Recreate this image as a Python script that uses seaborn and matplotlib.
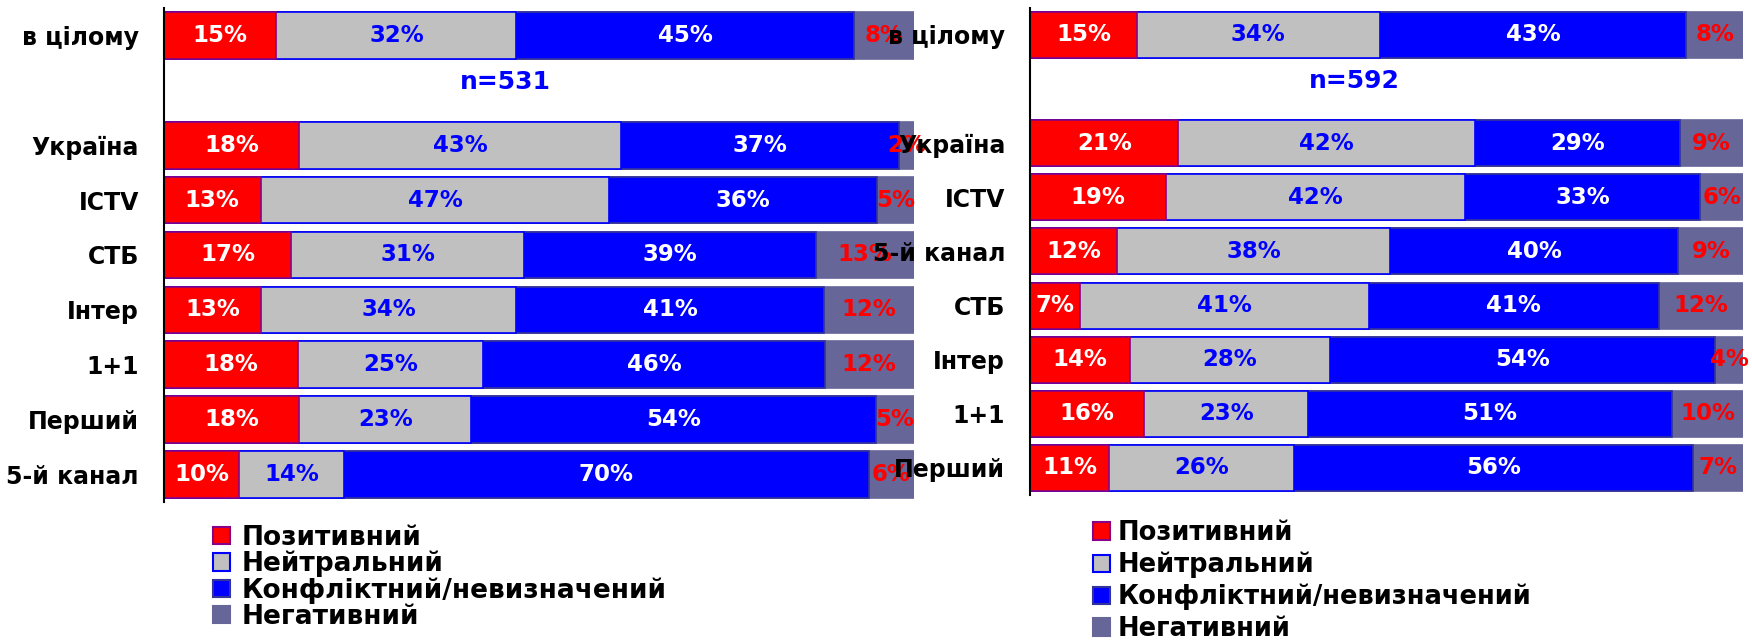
import numpy as np
import pandas as pd
import matplotlib
matplotlib.use("Agg")
import matplotlib.pyplot as plt
from matplotlib.patches import Patch
from matplotlib.ticker import FixedLocator
import seaborn as sns

sns.set_style("white")
plt.rcParams["font.family"] = ["DejaVu Sans"]
plt.rcParams["font.weight"] = "bold"
plt.rcParams["text.color"] = "black"
plt.rcParams["ytick.labelcolor"] = "black"

# --- data
series_names = ["Позитивний", "Нейтральний", "Конфліктний/невизначений", "Негативний"]
fill_colors = ["#FF0000", "#C0C0C0", "#0000FF", "#666699"]
edge_colors = ["#880088", "#0000FF", "#333399", "#666699"]
text_colors = ["white", "#0000FF", "white", "#FF0000"]

left_channels = ["в цілому", "Україна", "ICTV", "СТБ", "Інтер", "1+1", "Перший", "5-й канал"]
left_pos  = [15, 18, 13, 17, 13, 18, 18, 10]
left_neu  = [32, 43, 47, 31, 34, 25, 23, 14]
left_conf = [45, 37, 36, 39, 41, 46, 54, 70]
left_neg  = [8, 2, 5, 13, 12, 12, 5, 6]
left_n = "n=531"

right_channels = ["в цілому", "Україна", "ICTV", "5-й канал", "СТБ", "Інтер", "1+1", "Перший"]
right_pos  = [15, 21, 19, 12, 7, 14, 16, 11]
right_neu  = [34, 42, 42, 38, 41, 28, 23, 26]
right_conf = [43, 29, 33, 40, 41, 54, 51, 56]
right_neg  = [8, 9, 6, 9, 12, 4, 10, 7]
right_n = "n=592"


def draw_panel(ax, channels, series, n_label):
    df = pd.DataFrame({"channel": channels})
    vals = np.array(series, dtype=float)          # 4 x n
    shares = vals / vals.sum(axis=0) * 100        # bars are 100% stacked
    cum = np.cumsum(shares, axis=0)
    for k in range(4):
        df[f"cum{k}"] = cum[k]

    # blank slot between the total row and the channels
    order = [channels[0], " "] + channels[1:]

    # stacked bars: draw cumulative totals, widest first
    for k in reversed(range(4)):
        sns.barplot(data=df, x=f"cum{k}", y="channel", order=order, orient="h",
                    color=fill_colors[k], edgecolor=edge_colors[k], linewidth=1.2,
                    width=0.85, saturation=1, errorbar=None, ax=ax)

    for i, ch in enumerate(channels):
        y = order.index(ch)
        left = 0.0
        for k in range(4):
            ax.text(left + shares[k, i] / 2, y, f"{series[k][i]}%",
                    ha="center", va="center", color=text_colors[k],
                    fontsize=16.5, fontweight="bold")
            left += shares[k, i]

    ax.text(45.5, 0.85, n_label, ha="center", va="center", color="#0000FF",
            fontsize=18, fontweight="bold")

    ax.set_xlim(0, 100)
    ax.set_ylim(len(order) - 0.5, -0.5)
    ax.set_xlabel("")
    ax.set_ylabel("")
    ax.xaxis.set_visible(False)
    for s in ["top", "right", "bottom"]:
        ax.spines[s].set_visible(False)
    ax.spines["left"].set_color("black")
    ax.spines["left"].set_linewidth(1.5)
    ax.yaxis.set_minor_locator(FixedLocator(np.arange(-0.5, len(order), 1)))
    ax.tick_params(axis="y", which="major", length=0, pad=18, labelsize=17,
                   labelcolor="black")
    ax.tick_params(axis="y", which="minor", length=6, width=1.5,
                   direction="out", color="black")
    for t in ax.get_yticklabels():
        t.set_fontweight("bold")


fig = plt.figure(figsize=(17.52, 6.4), dpi=100)
ax_left = fig.add_axes([0.0936, 0.2156, 0.428, 0.772])
ax_right = fig.add_axes([0.588, 0.2266, 0.407, 0.761])

draw_panel(ax_left, left_channels, [left_pos, left_neu, left_conf, left_neg], left_n)
draw_panel(ax_right, right_channels, [right_pos, right_neu, right_conf, right_neg], right_n)

handles = [Patch(facecolor=fill_colors[k], edgecolor=edge_colors[k], linewidth=1.5)
           for k in range(4)]
legend_kw = dict(loc="upper left", frameon=False, handlelength=0.65,
                 handleheight=0.65, borderpad=0, borderaxespad=0)
fig.legend(handles, series_names, bbox_to_anchor=(0.1216, 0.180),
           prop={"size": 19, "weight": "bold"}, labelspacing=0.0,
           handletextpad=0.45, **legend_kw)
fig.legend(handles, series_names, bbox_to_anchor=(0.6239, 0.1875),
           prop={"size": 18.5, "weight": "bold"}, labelspacing=0.22,
           handletextpad=0.3, **legend_kw)

plt.savefig("out.png", dpi=100)
